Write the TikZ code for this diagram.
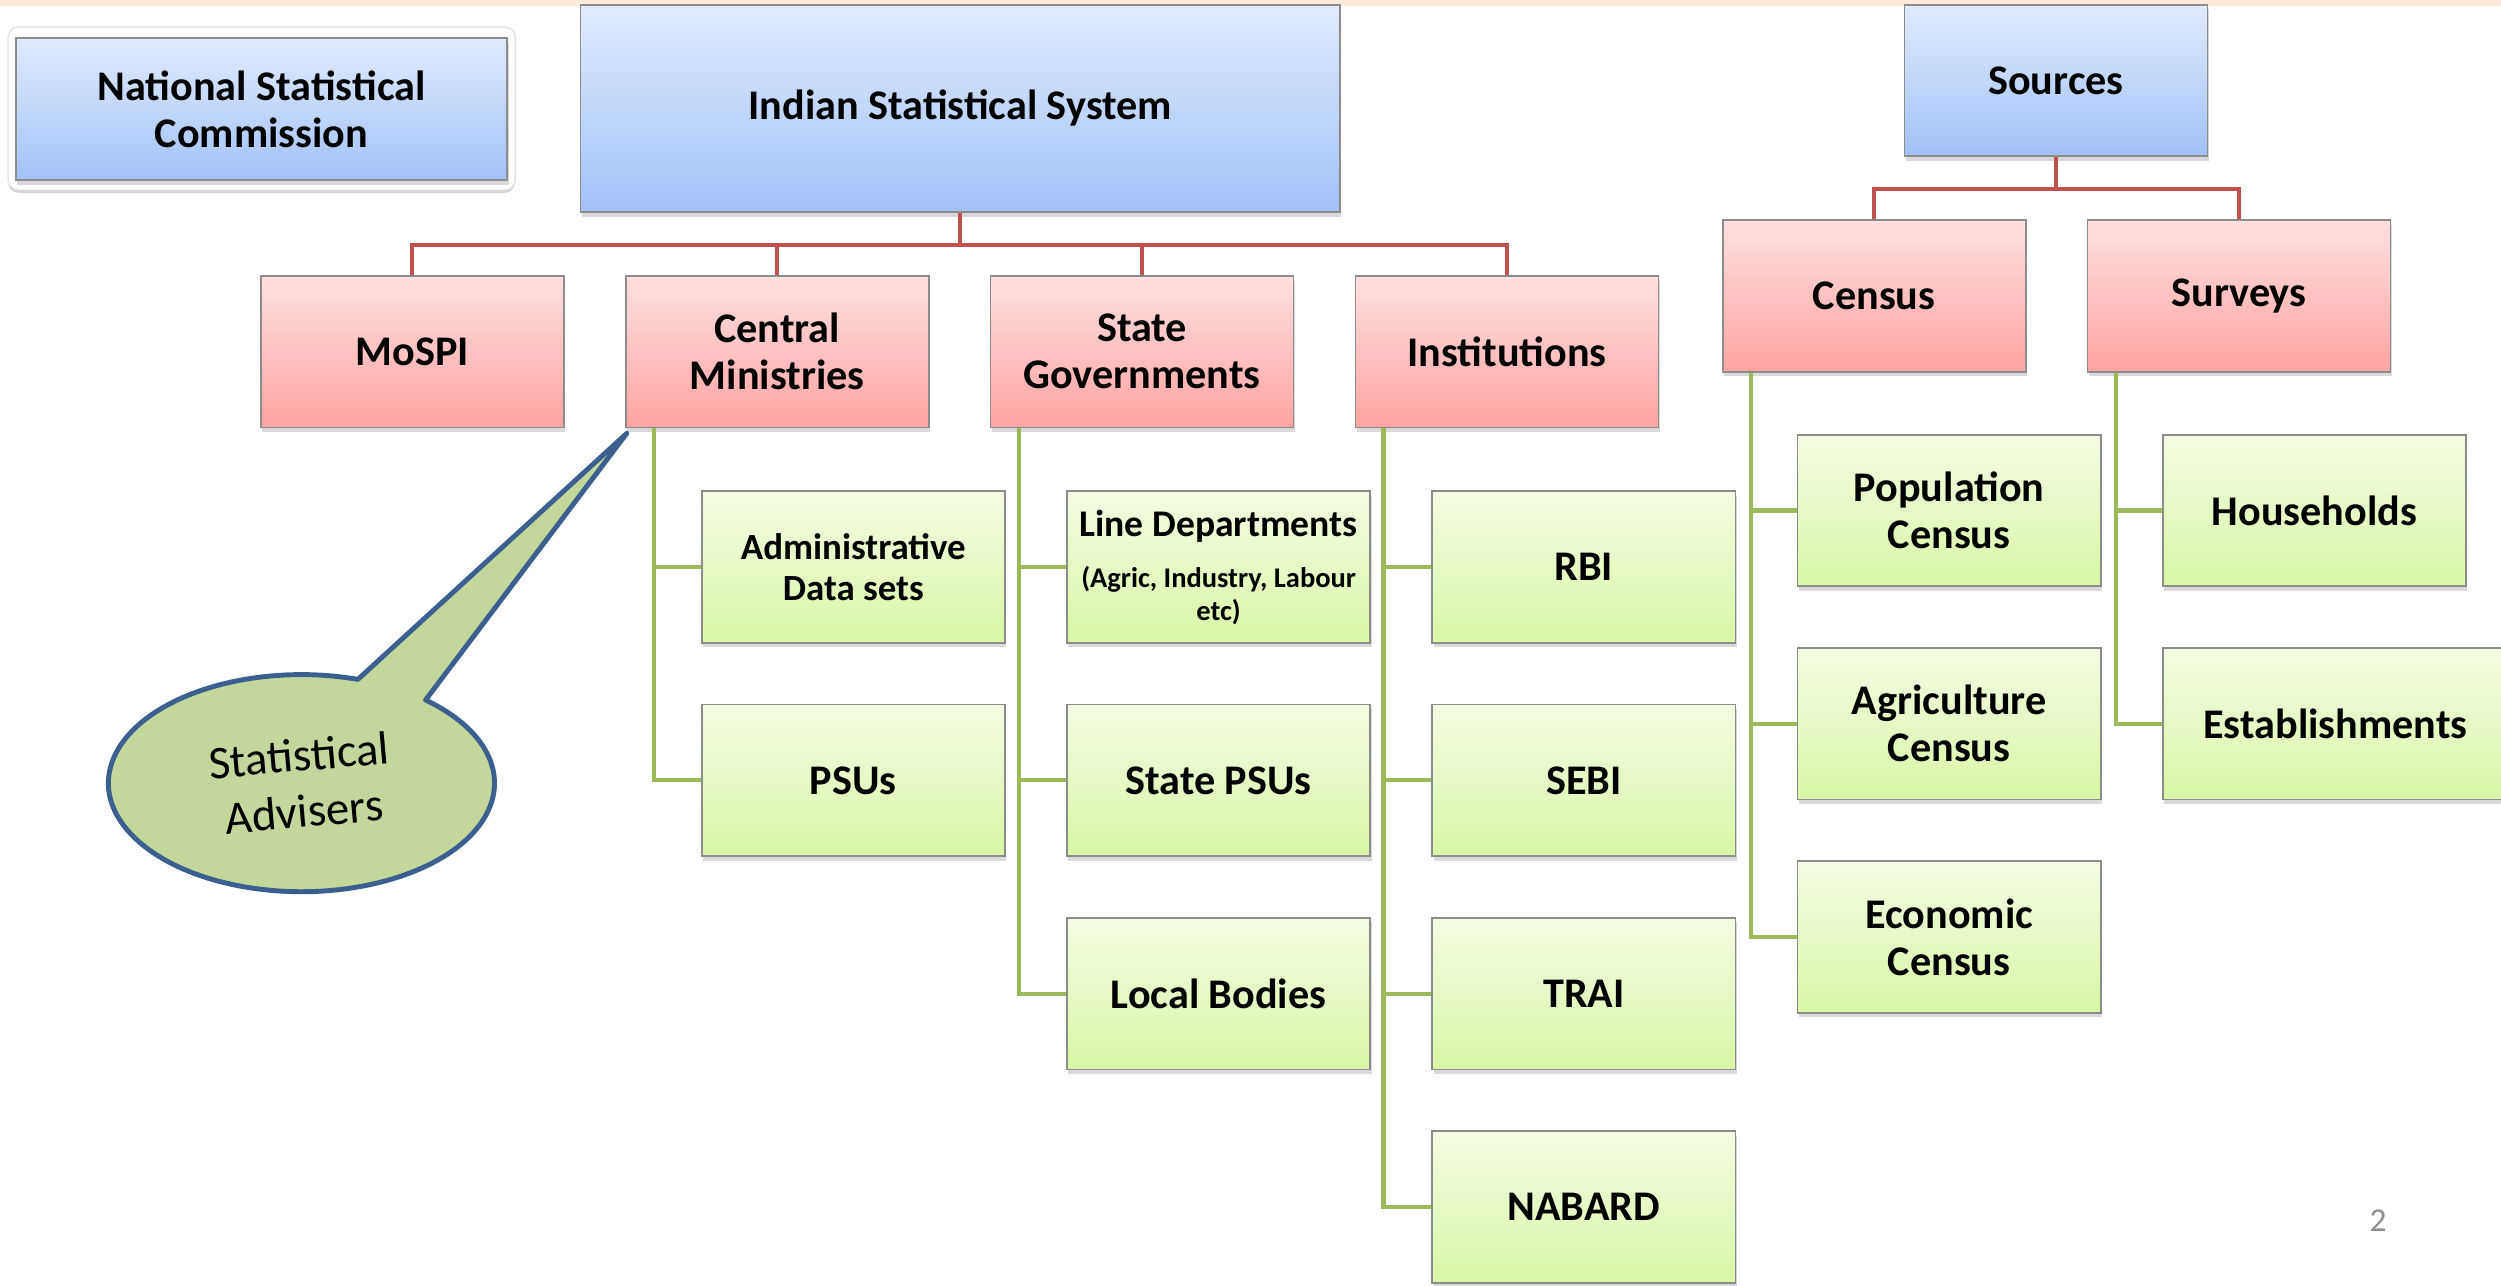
\documentclass[tikz,border=0pt]{standalone}
\usepackage{fontspec}
\setmainfont{Carlito}
\usetikzlibrary{positioning,shadows}

\definecolor{topA}{HTML}{E1EBFD}
\definecolor{topB}{HTML}{A3C1F8}
\definecolor{midA}{HTML}{FFE0E0}
\definecolor{midB}{HTML}{FFA3A3}
\definecolor{leafA}{HTML}{F3FBE3}
\definecolor{leafB}{HTML}{D9F7A5}
\definecolor{treered}{HTML}{C0504D}
\definecolor{leafgreen}{HTML}{9BBB59}
\definecolor{bubblefill}{HTML}{C3D69B}
\definecolor{bubbleline}{HTML}{3C5F8E}
\definecolor{strip}{HTML}{FDEADA}
\definecolor{pagegray}{HTML}{8C8C8C}

\tikzset{
  box/.style={rectangle, draw=black!45, line width=0.5pt, minimum width=3.03cm,
    minimum height=1.515cm, align=center, inner sep=2pt,
    font=\bfseries\fontsize{12}{13.4}\selectfont,
    drop shadow={shadow xshift=0.4pt, shadow yshift=-1.3pt, opacity=0.3}},
  topbox/.style={box, top color=topA, bottom color=topB},
  midbox/.style={box, top color=midA, bottom color=midB},
  leafbox/.style={box, top color=leafA, bottom color=leafB},
  tree/.style={draw=treered, line width=1.2pt},
  leaf/.style={draw=leafgreen, line width=1.2pt},
  bubble/.style={draw=bubbleline, fill=bubblefill, line width=1.4pt, line join=round},
}

\begin{document}
\begin{tikzpicture}[x=0.01595cm,y=-0.01595cm,node distance=0.6cm]
    \useasboundingbox (0,0) rectangle (1568,806);
    \fill[strip] (0,0) rectangle (1568,4);
    % top level
    \node[rectangle,fill=white,draw=black!10,rounded corners=3pt,minimum width=5.07cm,minimum height=1.63cm,
      drop shadow={shadow xshift=0pt, shadow yshift=-0.8pt, opacity=0.35}] (nscf) at (164,68) {};
    \node[topbox,minimum width=4.91cm,minimum height=1.42cm] (nsc) at (164,68.5) {National Statistical\\Commission};
    \node[topbox,minimum width=7.59cm,minimum height=2.07cm] (iss) at (602,68) {Indian Statistical System};
    \node[topbox] (src) at (1289,50.5) {Sources};
    % second level
    \node[midbox] (mospi) at (258.5,220.5) {MoSPI};
    \node[midbox,right=of mospi] (cm) {Central\\Ministries};
    \node[midbox,right=of cm] (sg) {State\\Governments};
    \node[midbox,right=of sg] (inst) {Institutions};
    \node[midbox] (census) at (1175,185.5) {Census};
    \node[midbox,right=of census] (surv) {Surveys};
    % red connectors
    \draw[tree] (iss.south) -- ++(0,-0.32cm) -| (mospi.north);
    \draw[tree] (iss.south) -- ++(0,-0.32cm) -| (cm.north);
    \draw[tree] (iss.south) -- ++(0,-0.32cm) -| (sg.north);
    \draw[tree] (iss.south) -- ++(0,-0.32cm) -| (inst.north);
    \draw[tree] (src.south) -- ++(0,-0.32cm) -| (census.north);
    \draw[tree] (src.south) -- ++(0,-0.32cm) -| (surv.north);
    % central ministries
    \node[leafbox,font=\bfseries\fontsize{10.5}{11.8}\selectfont] (adm) at (535,355.5) {Administrative\\Data sets};
    \node[leafbox,below=of adm] (psu) {PSUs};
    % state governments
    \node[leafbox,font=\bfseries\fontsize{8.1}{9.2}\selectfont] (line) at (764,355.5)
      {{\fontsize{10.7}{12}\selectfont Line Departments}\\[5.5pt](Agric, Industry, Labour\\etc)};
    \node[leafbox,below=of line] (spsu) {State PSUs};
    \node[leafbox,below=of spsu] (local) {Local Bodies};
    % institutions
    \node[leafbox] (rbi) at (993,355.5) {RBI};
    \node[leafbox,below=of rbi] (sebi) {SEBI};
    \node[leafbox,below=of sebi] (trai) {TRAI};
    \node[leafbox,below=of trai] (nabard) {NABARD};
    % census
    \node[leafbox] (pop) at (1222,320) {Population\\Census};
    \node[leafbox,below=of pop] (agri) {Agriculture\\Census};
    \node[leafbox,below=of agri] (econ) {Economic\\Census};
    % surveys
    \node[leafbox] (hh) at (1451,320) {Households};
    \node[leafbox,minimum width=3.45cm,below right=0.6cm and 0cm of hh.south west] (est) {Establishments};
    % green connectors
    \draw[leaf] ([xshift=0.29cm]cm.south west) |- (adm.west);
    \draw[leaf] ([xshift=0.29cm]cm.south west) |- (psu.west);
    \draw[leaf] ([xshift=0.29cm]sg.south west) |- (line.west);
    \draw[leaf] ([xshift=0.29cm]sg.south west) |- (spsu.west);
    \draw[leaf] ([xshift=0.29cm]sg.south west) |- (local.west);
    \draw[leaf] ([xshift=0.29cm]inst.south west) |- (rbi.west);
    \draw[leaf] ([xshift=0.29cm]inst.south west) |- (sebi.west);
    \draw[leaf] ([xshift=0.29cm]inst.south west) |- (trai.west);
    \draw[leaf] ([xshift=0.29cm]inst.south west) |- (nabard.west);
    \draw[leaf] ([xshift=0.29cm]census.south west) |- (pop.west);
    \draw[leaf] ([xshift=0.29cm]census.south west) |- (agri.west);
    \draw[leaf] ([xshift=0.29cm]census.south west) |- (econ.west);
    \draw[leaf] ([xshift=0.29cm]surv.south west) |- (hh.west);
    \draw[leaf] ([xshift=0.29cm]surv.south west) |- (est.west);
    % callout
    \coordinate (advc) at (189,491);
    \coordinate (tip) at ([xshift=0.02cm,yshift=-0.05cm]cm.south west);
    \draw[bubble] (advc) ++(73:1.93cm and 1.085cm) arc[start angle=73, end angle=410, x radius=1.93cm, y radius=1.085cm] -- (tip) -- cycle;
    \node[font=\fontsize{13.3}{16}\selectfont,rotate=5,align=center] (adv) at (advc) {Statistical\\Advisers};
    % page number
    \node[text=pagegray,font=\fontsize{9.5}{11}\selectfont] (pg) at (1491,765) {2};
  \end{tikzpicture}
\end{document}
